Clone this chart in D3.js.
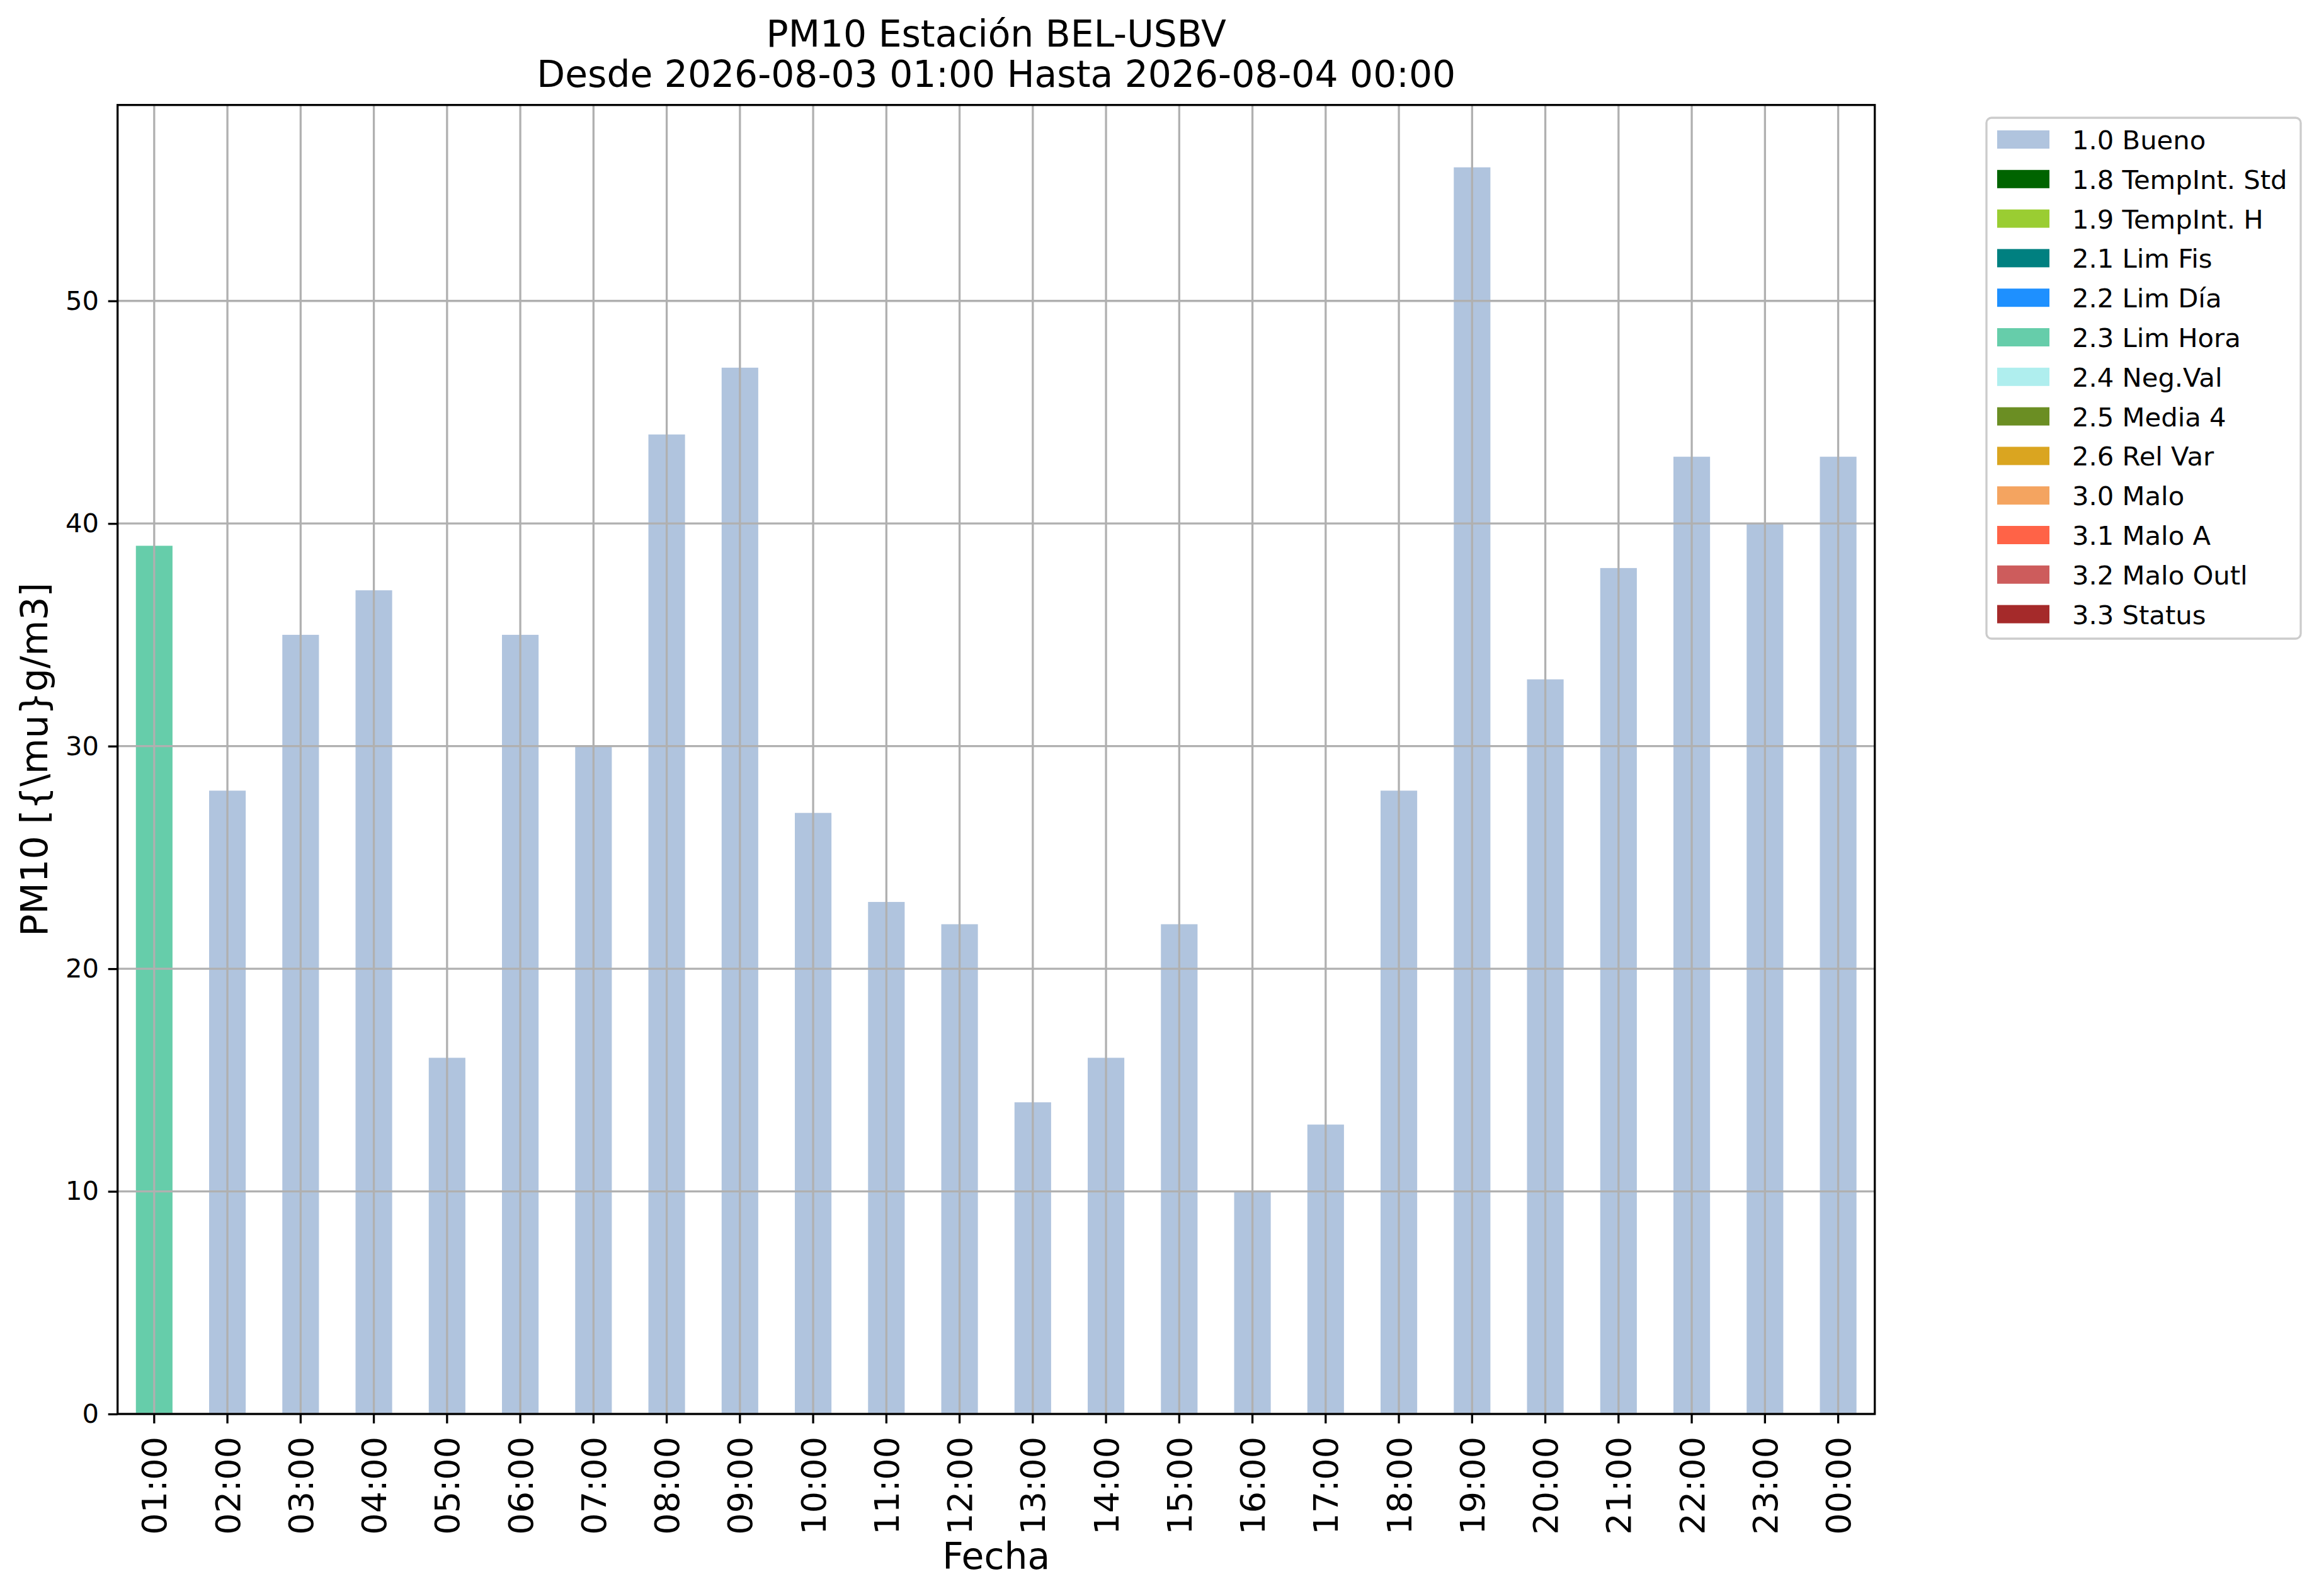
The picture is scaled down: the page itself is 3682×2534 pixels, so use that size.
<!DOCTYPE html>
<html>
<head>
<meta charset="utf-8">
<script src="https://cdn.jsdelivr.net/npm/d3@7"></script>
<style>
html,body{margin:0;padding:0;background:#fff;}
svg{display:block;font-family:"DejaVu Sans",sans-serif;}
</style>
</head>
<body>
<svg id="chart" width="3682" height="2534"></svg>
<script>
// ---- data ----
const hours = ["01:00","02:00","03:00","04:00","05:00","06:00","07:00","08:00","09:00","10:00","11:00","12:00",
               "13:00","14:00","15:00","16:00","17:00","18:00","19:00","20:00","21:00","22:00","23:00","00:00"];
const values = [39,28,35,37,16,35,30,44,47,27,23,22,14,16,22,10,13,28,56,33,38,43,40,43];
const flags = ["2.3 Lim Hora","1.0 Bueno","1.0 Bueno","1.0 Bueno","1.0 Bueno","1.0 Bueno","1.0 Bueno","1.0 Bueno",
               "1.0 Bueno","1.0 Bueno","1.0 Bueno","1.0 Bueno","1.0 Bueno","1.0 Bueno","1.0 Bueno","1.0 Bueno",
               "1.0 Bueno","1.0 Bueno","1.0 Bueno","1.0 Bueno","1.0 Bueno","1.0 Bueno","1.0 Bueno","1.0 Bueno"];
const legendLabels = ["1.0 Bueno","1.8 TempInt. Std","1.9 TempInt. H","2.1 Lim Fis","2.2 Lim Día","2.3 Lim Hora",
                      "2.4 Neg.Val","2.5 Media 4","2.6 Rel Var","3.0 Malo","3.1 Malo A","3.2 Malo Outl","3.3 Status"];
const legendColors = ["#B0C4DE","#006400","#9ACD32","#008080","#1E90FF","#66CDAA",
                      "#AFEEEE","#6B8E23","#DAA520","#F4A460","#FF6347","#CD5C5C","#A52A2A"];
const yTicks = [0,10,20,30,40,50];
const yMax = 58.8;
const titleLines = ["PM10 Estación BEL-USBV","Desde 2026-08-03 01:00 Hasta 2026-08-04 00:00"];
const yLabel = "PM10 [{\\mu}g/m3]";
const xLabel = "Fecha";

// ---- layout ----
const axL = 186.7, axR = 2976.7, axT = 166.7, axB = 2245;
const lw = 3.3;
const svg = d3.select("#chart");
svg.append("rect").attr("width",3682).attr("height",2534).attr("fill","#fff");

const x = d3.scaleBand().domain(hours).range([axL, axR]).paddingInner(0.5).paddingOuter(0.25);
const y = d3.scaleLinear().domain([0, yMax]).range([axB, axT]);
const color = d3.scaleOrdinal().domain(legendLabels).range(legendColors);

const data = hours.map((h,i)=>({h, v:values[i], f:flags[i]}));

// bars
svg.append("g").selectAll("rect").data(data).join("rect")
  .attr("x", d=>x(d.h)).attr("width", x.bandwidth())
  .attr("y", d=>y(d.v)).attr("height", d=>y(0)-y(d.v))
  .attr("fill", d=>color(d.f));

// grid (on top of bars)
const grid = svg.append("g").attr("stroke","#b0b0b0").attr("stroke-width",lw);
grid.selectAll(".gv").data(hours).join("line")
  .attr("x1", d=>x(d)+x.bandwidth()/2).attr("x2", d=>x(d)+x.bandwidth()/2)
  .attr("y1", axT).attr("y2", axB);
grid.selectAll(".gh").data(yTicks).join("line")
  .attr("x1", axL).attr("x2", axR).attr("y1", d=>y(d)).attr("y2", d=>y(d));

// axes
const yAxis = svg.append("g").attr("transform",`translate(${axL},0)`)
  .call(d3.axisLeft(y).tickValues(yTicks).tickSize(15).tickPadding(14.6).tickFormat(d3.format("d")));
yAxis.select(".domain").remove();
yAxis.selectAll(".tick line").attr("stroke","#000").attr("stroke-width",lw);
yAxis.selectAll(".tick text").attr("font-size",41.7).attr("font-family","DejaVu Sans").attr("fill","#000");

const xAxis = svg.append("g").attr("transform",`translate(0,${axB})`)
  .call(d3.axisBottom(x).tickSize(15).tickPadding(14.6));
xAxis.select(".domain").remove();
xAxis.selectAll(".tick line").attr("stroke","#000").attr("stroke-width",lw);
xAxis.selectAll(".tick text")
  .attr("font-size",54).attr("font-family","DejaVu Sans").attr("fill","#000")
  .attr("transform","rotate(-90)").attr("text-anchor","end")
  .attr("x",-36).attr("y",0).attr("dy","0.36em");

// spines
svg.append("rect").attr("x",axL).attr("y",axT).attr("width",axR-axL).attr("height",axB-axT)
  .attr("fill","none").attr("stroke","#000").attr("stroke-width",lw);

// title
const cx = (axL+axR)/2;
svg.append("g").selectAll("text").data(titleLines).join("text")
  .attr("x",cx).attr("y",(d,i)=>74+i*64).attr("text-anchor","middle")
  .attr("font-size",58.3).attr("fill","#000").text(d=>d);

// axis labels
svg.append("text").attr("x",cx).attr("y",2491).attr("text-anchor","middle")
  .attr("font-size",58.3).attr("fill","#000").text(xLabel);
svg.append("text").attr("transform",`translate(75,${(axT+axB)/2}) rotate(-90)`)
  .attr("text-anchor","middle").attr("font-size",58.3).attr("fill","#000").text(yLabel);

// legend
const lg = svg.append("g");
lg.append("rect").attr("x",3154).attr("y",187).attr("width",499).attr("height",827)
  .attr("rx",8).attr("ry",8).attr("fill","#fff").attr("fill-opacity",0.8)
  .attr("stroke","#cccccc").attr("stroke-width",lw);
const rows = lg.selectAll("g.row").data(legendLabels).join("g")
  .attr("transform",(d,i)=>`translate(0,${207 + i*62.8})`);
rows.append("rect").attr("x",3171).attr("y",0).attr("width",83).attr("height",29)
  .attr("fill",d=>color(d));
rows.append("text").attr("x",3290).attr("y",30).attr("font-size",41.7).attr("fill","#000").text(d=>d);
</script>
</body>
</html>
